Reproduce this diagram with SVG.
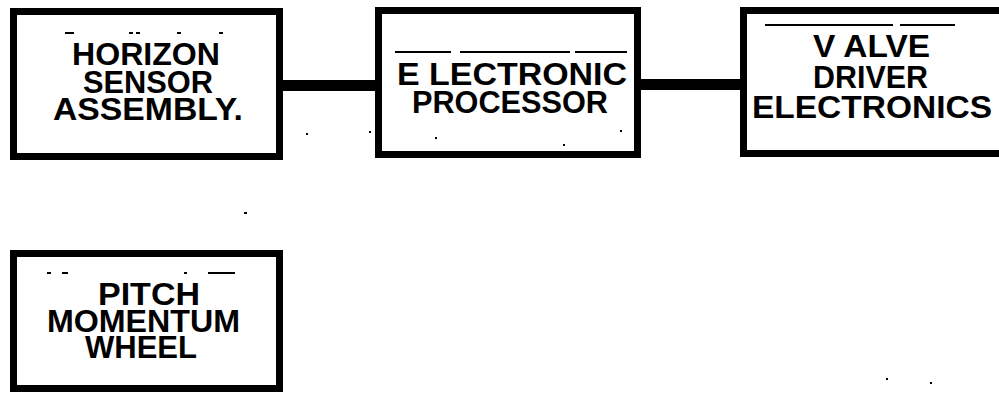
<svg xmlns="http://www.w3.org/2000/svg" width="999" height="394" viewBox="0 0 999 394">
<style>
.box{fill:#fff;stroke:#000;stroke-width:7}
.conn{stroke:#000;stroke-width:11;fill:none}
.lbl{font-family:"Liberation Sans",Arial,sans-serif;font-weight:bold;font-size:31px;fill:#000}
.rule{stroke:#000;stroke-width:1.8;fill:none}
.speck{fill:#000}
</style>
<rect width="999" height="394" fill="#fff"/>
<g id="connectors">
<line class="conn" x1="280" y1="85.5" x2="380" y2="85.5"/>
<line class="conn" x1="638" y1="84.5" x2="746" y2="84.5"/>
</g>
<g id="horizon-sensor-assembly">
<rect class="box" x="13.5" y="11.5" width="266" height="145"/>
<path class="rule" d="M65 33h9M129 33h4M136 33h4M177 33h4M219 33h4"/>
<text class="lbl" x="72" y="65" textLength="148" lengthAdjust="spacingAndGlyphs">HORIZON</text>
<text class="lbl" x="83" y="93" textLength="130" lengthAdjust="spacingAndGlyphs">SENSOR</text>
<text class="lbl" x="53" y="120" textLength="190" lengthAdjust="spacingAndGlyphs">ASSEMBLY.</text>
</g>
<g id="electronic-processor">
<rect class="box" x="378.5" y="10.5" width="259" height="144"/>
<path class="rule" d="M395 52h56M460 52h110M575 52h52"/>
<text class="lbl" x="397" y="85" textLength="230" lengthAdjust="spacingAndGlyphs">E LECTRONIC</text>
<text class="lbl" x="412" y="113" textLength="196" lengthAdjust="spacingAndGlyphs">PROCESSOR</text>
</g>
<g id="valve-driver-electronics">
<rect class="box" x="743.5" y="10.5" width="262" height="143"/>
<path class="rule" d="M765 25h128M900 25h55"/>
<text class="lbl" x="813" y="57" textLength="117" lengthAdjust="spacingAndGlyphs">V ALVE</text>
<text class="lbl" x="813" y="88" textLength="115" lengthAdjust="spacingAndGlyphs">DRIVER</text>
<text class="lbl" x="752" y="118" textLength="240" lengthAdjust="spacingAndGlyphs">ELECTRONICS</text>
</g>
<g id="pitch-momentum-wheel">
<rect class="box" x="13.5" y="253.5" width="266" height="135"/>
<path class="rule" d="M47 273h4M62 273h6M184 273h3M208 273h27"/>
<text class="lbl" x="98" y="305" textLength="102" lengthAdjust="spacingAndGlyphs">PITCH</text>
<text class="lbl" x="47" y="332" textLength="193" lengthAdjust="spacingAndGlyphs">MOMENTUM</text>
<text class="lbl" x="85" y="358" textLength="112" lengthAdjust="spacingAndGlyphs">WHEEL</text>
</g>
<g id="specks">
<rect class="speck" x="244" y="212" width="3" height="2"/>
<rect class="speck" x="306" y="133" width="2" height="2"/>
<rect class="speck" x="369" y="131" width="2" height="2"/>
<rect class="speck" x="435" y="137" width="2" height="2"/>
<rect class="speck" x="563" y="144" width="2" height="2"/>
<rect class="speck" x="620" y="130" width="2" height="2"/>
<rect class="speck" x="886" y="378" width="2" height="2"/>
<rect class="speck" x="930" y="382" width="2" height="2"/>
</g>
</svg>
